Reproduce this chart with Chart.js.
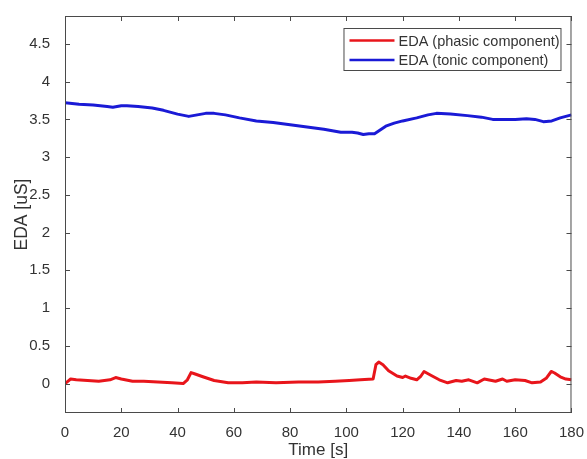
<!DOCTYPE html>
<html>
<head>
<meta charset="utf-8">
<script src="https://cdn.jsdelivr.net/npm/chart.js@4"></script>
<style>
  body { margin: 0; background: #fff; }
  #wrap { width: 587px; height: 459px; }
</style>
</head>
<body>
<div id="wrap"><canvas id="edaChart"></canvas></div>
<script>
// Tonic component (slow baseline), seconds / microsiemens
const tonicTime = [0, 5, 10, 15, 17, 20, 22, 26, 31, 35, 40, 44, 47, 50, 53, 57, 62, 68, 74, 80, 86, 92, 98, 102, 104, 106, 108, 110, 112, 114, 117, 120, 125, 129, 132, 137, 143, 148, 152, 155, 160, 164, 167, 170, 173, 176, 180];
const tonicValues = [3.72, 3.70, 3.69, 3.67, 3.66, 3.68, 3.68, 3.67, 3.65, 3.62, 3.57, 3.54, 3.56, 3.58, 3.58, 3.56, 3.52, 3.48, 3.46, 3.43, 3.40, 3.37, 3.33, 3.33, 3.32, 3.30, 3.31, 3.31, 3.36, 3.41, 3.45, 3.48, 3.52, 3.56, 3.58, 3.57, 3.55, 3.53, 3.50, 3.50, 3.50, 3.51, 3.50, 3.47, 3.48, 3.52, 3.56];

// Phasic component (fast responses)
const phasicTime = [0, 1, 2, 4, 8, 12, 16, 18, 20, 24, 28, 33, 38, 42, 43.5, 44.8, 46, 49, 53, 58, 63, 68, 75, 83, 90, 96, 101, 105, 109.5, 110.5, 111.5, 113, 115, 118, 120, 121, 123, 125, 126.5, 127.6, 130, 133, 136, 139, 141, 143.5, 146.5, 149, 153, 155.5, 157, 160, 163.5, 166, 169, 171, 172.8, 174, 176, 178, 180];
const phasicValues = [0.00, 0.03, 0.06, 0.05, 0.04, 0.03, 0.05, 0.08, 0.06, 0.03, 0.03, 0.02, 0.01, 0.00, 0.05, 0.145, 0.13, 0.09, 0.04, 0.01, 0.01, 0.02, 0.01, 0.02, 0.02, 0.03, 0.04, 0.05, 0.06, 0.25, 0.285, 0.25, 0.17, 0.10, 0.08, 0.10, 0.07, 0.05, 0.10, 0.16, 0.11, 0.05, 0.01, 0.04, 0.03, 0.05, 0.01, 0.06, 0.03, 0.06, 0.03, 0.05, 0.04, 0.01, 0.02, 0.07, 0.16, 0.14, 0.09, 0.06, 0.05];

const seriesLabels = ['EDA (phasic component)', 'EDA (tonic component)'];
const seriesColors = ['#e8151b', '#1a1ad6'];

const xTicks = [0, 20, 40, 60, 80, 100, 120, 140, 160, 180];
const yTicks = [0, 0.5, 1, 1.5, 2, 2.5, 3, 3.5, 4, 4.5];

const axisColor = '#4a4a4a';
const textColor = '#333333';
const fontFamily = '"Liberation Sans", Arial, Helvetica, sans-serif';

function toPoints(xs, ys) {
    return xs.map((x, i) => ({ x: x, y: ys[i] }));
}

// box around the axes with inward tick marks on all four sides
const boxAxes = {
    id: 'boxAxes',
    afterDraw(chart) {
        const { ctx, chartArea: a, scales } = chart;
        const len = 5;
        ctx.save();
        ctx.strokeStyle = axisColor;
        ctx.lineWidth = 1;
        ctx.strokeRect(a.left + 0.5, a.top + 0.5, a.right - a.left - 1, a.bottom - a.top - 1);
        ctx.beginPath();
        scales.x.ticks.forEach(t => {
            const px = Math.round(scales.x.getPixelForValue(t.value)) + 0.5;
            ctx.moveTo(px, a.bottom);
            ctx.lineTo(px, a.bottom - len);
            ctx.moveTo(px, a.top);
            ctx.lineTo(px, a.top + len);
        });
        scales.y.ticks.forEach(t => {
            const py = Math.round(scales.y.getPixelForValue(t.value)) + 0.5;
            ctx.moveTo(a.left, py);
            ctx.lineTo(a.left + len, py);
            ctx.moveTo(a.right, py);
            ctx.lineTo(a.right - len, py);
        });
        ctx.stroke();
        ctx.restore();
    }
};

// legend box in the upper right corner of the plot area
const boxLegend = {
    id: 'boxLegend',
    afterDraw(chart) {
        const { ctx, chartArea: a } = chart;
        const w = 217, h = 42;
        const x0 = a.right - 11 - w, y0 = a.top + 12;
        ctx.save();
        ctx.fillStyle = '#fff';
        ctx.fillRect(x0, y0, w, h);
        ctx.strokeStyle = axisColor;
        ctx.lineWidth = 1;
        ctx.strokeRect(x0 + 0.5, y0 + 0.5, w, h);
        ctx.font = '14.5px ' + fontFamily;
        ctx.textBaseline = 'middle';
        chart.data.datasets.forEach((ds, i) => {
            const y = y0 + 12.5 + i * 19.5;
            ctx.strokeStyle = ds.borderColor;
            ctx.lineWidth = 2.5;
            ctx.beginPath();
            ctx.moveTo(x0 + 6, y);
            ctx.lineTo(x0 + 51, y);
            ctx.stroke();
            ctx.fillStyle = textColor;
            ctx.fillText(ds.label, x0 + 55, y + 1);
        });
        ctx.restore();
    }
};

const ctx = document.getElementById('edaChart').getContext('2d');

new Chart(ctx, {
    type: 'line',
    data: {
        datasets: [
            {
                label: seriesLabels[0],
                data: toPoints(phasicTime, phasicValues),
                borderColor: seriesColors[0],
                borderWidth: 3,
                pointRadius: 0,
                tension: 0,
                borderJoinStyle: 'round'
            },
            {
                label: seriesLabels[1],
                data: toPoints(tonicTime, tonicValues),
                borderColor: seriesColors[1],
                borderWidth: 3,
                pointRadius: 0,
                tension: 0,
                borderJoinStyle: 'round'
            }
        ]
    },
    options: {
        responsive: true,
        maintainAspectRatio: false,
        animation: false,
        layout: { padding: { left: 0, top: 13, right: 14, bottom: 0 } },
        plugins: {
            legend: { display: false },
            tooltip: { enabled: false }
        },
        scales: {
            x: {
                type: 'linear',
                min: 0,
                max: 180,
                grid: { display: false },
                border: { display: false },
                afterBuildTicks: s => { s.ticks = xTicks.map(v => ({ value: v })); },
                afterFit: s => { s.height = 46; },
                ticks: {
                    color: textColor,
                    padding: 3,
                    maxRotation: 0,
                    font: { family: fontFamily, size: 15 },
                    callback: v => String(v)
                },
                title: {
                    display: true,
                    text: 'Time [s]',
                    color: textColor,
                    padding: 0,
                    font: { family: fontFamily, size: 17, lineHeight: 1 }
                }
            },
            y: {
                type: 'linear',
                min: -0.39,
                max: 4.87,
                grid: { display: false },
                border: { display: false },
                afterBuildTicks: s => { s.ticks = yTicks.map(v => ({ value: v })); },
                afterFit: s => { s.width = 65; },
                ticks: {
                    color: textColor,
                    padding: 7,
                    font: { family: fontFamily, size: 15 },
                    callback: v => String(Number(v.toFixed(2)))
                },
                title: {
                    display: true,
                    text: 'EDA [uS]',
                    color: textColor,
                    padding: { top: 13, bottom: 0 },
                    font: { family: fontFamily, size: 17.5, lineHeight: 1 }
                }
            }
        }
    },
    plugins: [boxAxes, boxLegend]
});
</script>
</body>
</html>
